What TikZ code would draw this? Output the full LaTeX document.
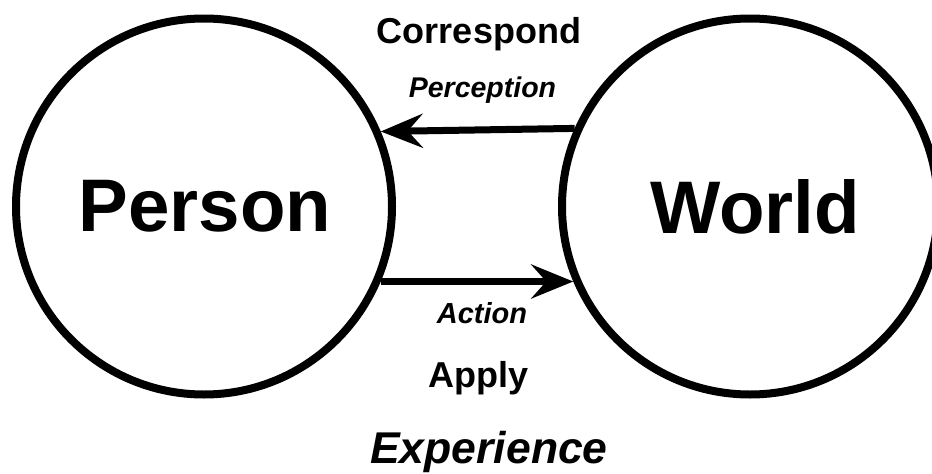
\documentclass[tikz,border=0pt]{standalone}
\usepackage{fontspec}
\setmainfont{Liberation Sans}
\usetikzlibrary{arrows.meta}
\begin{document}
\begin{tikzpicture}[x=1pt,y=-1pt,
  ball/.style={circle,draw=black,line width=8pt,minimum size=376pt,inner sep=0pt,
    font=\fontsize{74.5}{80}\selectfont\bfseries},
  flow/.style={line width=7pt,-{Stealth[length=42pt,width=34pt,inset=15pt]}},
  lbl/.style={anchor=base,inner sep=0pt}]
\useasboundingbox (0,0) rectangle (932,474);
\clip (0,0) rectangle (932,474);
\fill[white] (0,0) rectangle (932,474);
\node[ball] (P) at (204,206.5) {\hspace*{2pt}Person};
\node[ball] (W) at (750,206.5) {\hspace*{10pt}World};
\draw[flow] (W.156.2) -- (P.23.8);
\draw[flow] (P.-23.16) -- (W.203.16);
\node[lbl,font=\fontsize{36}{40}\selectfont\bfseries] (c) at (479,43) {Correspond};
\node[lbl,font=\fontsize{28.5}{32}\selectfont\bfseries\itshape] (pe) at (482.5,97) {Perception};
\node[lbl,font=\fontsize{29}{32}\selectfont\bfseries\itshape] (ac) at (482,323) {Action};
\node[lbl,font=\fontsize{36}{40}\selectfont\bfseries] (ap) at (478.5,387) {Apply};
\node[lbl,font=\fontsize{44.5}{48}\selectfont\bfseries\itshape] (ex) at (489,463) {Experience};
\end{tikzpicture}
\end{document}
